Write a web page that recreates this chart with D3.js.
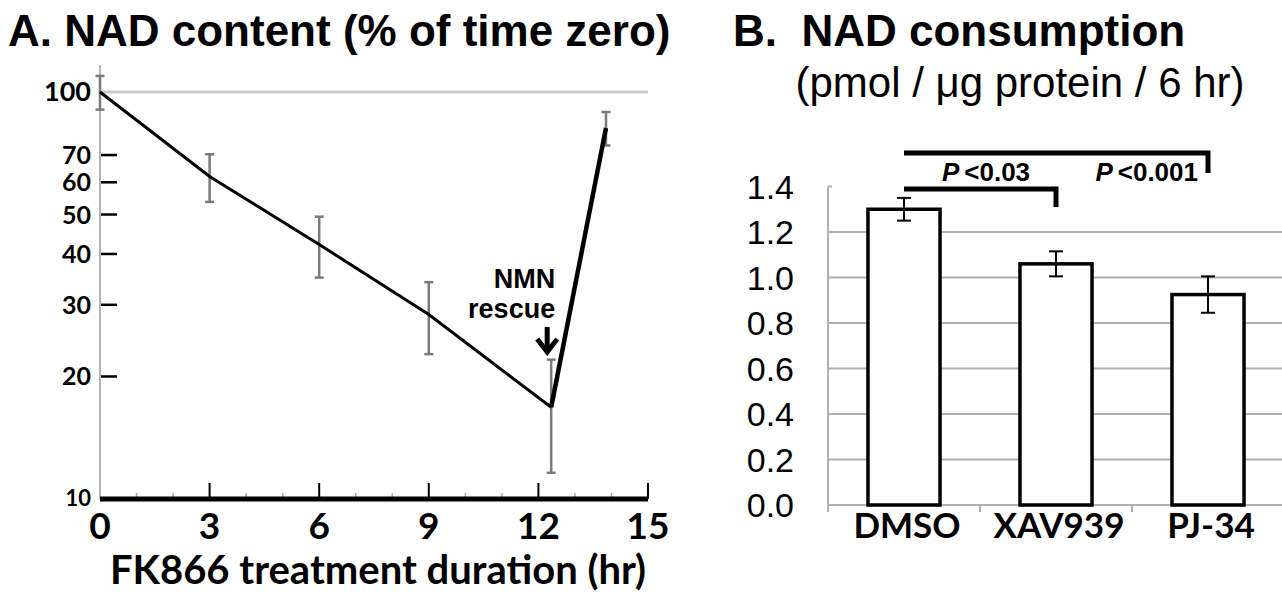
<!DOCTYPE html>
<html>
<head>
<meta charset="utf-8">
<script src="https://cdn.jsdelivr.net/npm/d3@7"></script>
<style>
  body { margin: 0; background: #fff; }
  svg { display: block; }
</style>
</head>
<body>
<svg id="chart" width="1282" height="592"></svg>
<script>
// panel A: NAD content over FK866 treatment time
const hours = [0, 3, 6, 9, 12.35, 13.85];
const nadPct = [100, 62, 42.2, 28.4, 16.8, 81.6];
const nadErr = [9.5, 8.3, 7.2, 5.7, 5.2, 7.7];
const hourTicks = [0, 3, 6, 9, 12, 15];
const pctTicks = [10, 20, 30, 40, 50, 60, 70, 100];

// panel B: NAD consumption per treatment
const groups = ["DMSO", "XAV939", "PJ-34"];
const consumption = [1.30, 1.06, 0.925];
const consErr = [0.05, 0.055, 0.08];
const consTicks = [0, 0.2, 0.4, 0.6, 0.8, 1.0, 1.2, 1.4];

const svg = d3.select("#chart");
const lato = "Lato, 'Open Sans', sans-serif";
const arial = "'Liberation Sans', Arial, sans-serif";

// ---------- A ----------
const xA = d3.scaleLinear().domain([0, 15]).range([100, 648]);
const yA = d3.scaleLog().domain([10, 100]).range([499, 92]);

svg.append("text")
  .attr("x", 8).attr("y", 46)
  .attr("font-family", arial).attr("font-weight", "bold").attr("font-size", 44)
  .text("A. NAD content (% of time zero)");

// light line at 100%
svg.append("line")
  .attr("x1", xA(0)).attr("x2", xA(15))
  .attr("y1", yA(100)).attr("y2", yA(100))
  .attr("stroke", "#cacaca").attr("stroke-width", 3);

// y axis, grey
svg.append("line")
  .attr("x1", xA(0)).attr("x2", xA(0))
  .attr("y1", 65).attr("y2", yA(10))
  .attr("stroke", "#b5b5b5").attr("stroke-width", 2);

const gyA = svg.append("g");
gyA.selectAll("line")
  .data(pctTicks.filter(d => d > 10 && d < 100))
  .join("line")
  .attr("x1", xA(0) + 1).attr("x2", xA(0) + 17)
  .attr("y1", d => yA(d)).attr("y2", d => yA(d))
  .attr("stroke", "#000").attr("stroke-width", 2.5);
gyA.selectAll("text")
  .data(pctTicks)
  .join("text")
  .attr("x", 91)
  .attr("y", d => yA(d))
  .attr("dy", d => d === 10 ? 7 : 9)
  .attr("text-anchor", "end")
  .attr("font-family", lato).attr("font-weight", "bold")
  .attr("font-size", d => d === 10 ? 22 : (d === 100 ? 27 : 25))
  .text(d => d);

// x axis: minor, major ticks and thick base
const gxA = svg.append("g");
gxA.selectAll("line.minor")
  .data(d3.range(1, 15).filter(h => h % 3 !== 0))
  .join("line")
  .attr("class", "minor")
  .attr("x1", d => xA(d)).attr("x2", d => xA(d))
  .attr("y1", yA(10) - 6).attr("y2", yA(10))
  .attr("stroke", "#aaa").attr("stroke-width", 1.5);
gxA.selectAll("line.major")
  .data(hourTicks.slice(1))
  .join("line")
  .attr("class", "major")
  .attr("x1", d => xA(d)).attr("x2", d => xA(d))
  .attr("y1", yA(10) - 16).attr("y2", yA(10))
  .attr("stroke", "#000").attr("stroke-width", 2);
gxA.append("line")
  .attr("x1", xA(0)).attr("x2", xA(15))
  .attr("y1", yA(10)).attr("y2", yA(10))
  .attr("stroke", "#000").attr("stroke-width", 5);
gxA.selectAll("text")
  .data(hourTicks)
  .join("text")
  .attr("x", d => xA(d)).attr("y", 539)
  .attr("text-anchor", "middle")
  .attr("font-family", lato).attr("font-weight", "bold").attr("font-size", 37)
  .text(d => d);

svg.append("text")
  .attr("x", (xA(0) + xA(15)) / 2 + 4).attr("y", 584)
  .attr("text-anchor", "middle")
  .attr("font-family", lato).attr("font-weight", "bold").attr("font-size", 40)
  .text("FK866 treatment duration (hr)");

// error bars
const ptsA = hours.map((h, i) => ({ h, v: nadPct[i], e: nadErr[i] }));
const eb = svg.append("g").attr("stroke", "#7a7a7a").attr("stroke-width", 2.5);
ptsA.forEach(d => {
  const x = xA(d.h);
  eb.append("line").attr("x1", x).attr("x2", x)
    .attr("y1", yA(d.v + d.e)).attr("y2", yA(d.v - d.e));
  [d.v + d.e, d.v - d.e].forEach(v => {
    eb.append("line").attr("x1", x - 4.5).attr("x2", x + 4.5)
      .attr("y1", yA(v)).attr("y2", yA(v));
  });
});

const lineA = d3.line().x(d => xA(d.h)).y(d => yA(d.v));
svg.append("path")
  .attr("d", lineA(ptsA.slice(0, 5)))
  .attr("fill", "none").attr("stroke", "#000").attr("stroke-width", 3);
svg.append("path")
  .attr("d", lineA(ptsA.slice(4)))
  .attr("fill", "none").attr("stroke", "#000").attr("stroke-width", 4.5);

// NMN rescue note + arrow
const ax = xA(hours[4]) - 4;
svg.append("text")
  .attr("x", ax + 8).attr("y", 288)
  .attr("text-anchor", "end")
  .attr("font-family", arial).attr("font-weight", "bold").attr("font-size", 27)
  .text("NMN");
svg.append("text")
  .attr("x", ax + 8).attr("y", 318)
  .attr("text-anchor", "end")
  .attr("font-family", arial).attr("font-weight", "bold").attr("font-size", 27)
  .text("rescue");
svg.append("line")
  .attr("x1", ax).attr("x2", ax).attr("y1", 327).attr("y2", 350)
  .attr("stroke", "#000").attr("stroke-width", 5);
svg.append("path")
  .attr("d", `M${ax - 10},${339} L${ax},${352} L${ax + 10},${339}`)
  .attr("fill", "none").attr("stroke", "#000").attr("stroke-width", 5);

// ---------- B ----------
const xB = d3.scaleBand().domain(groups).range([828, 1284])
  .paddingInner(0.526).paddingOuter(0.263);
const yB = d3.scaleLinear().domain([0, 1.4]).range([505, 186.5]);

svg.append("text")
  .attr("x", 733).attr("y", 46)
  .attr("font-family", arial).attr("font-weight", "bold").attr("font-size", 44)
  .attr("xml:space", "preserve")
  .text("B.  NAD consumption");
svg.append("text")
  .attr("x", 1020).attr("y", 97)
  .attr("text-anchor", "middle")
  .attr("font-family", arial).attr("font-size", 42)
  .text("(pmol / \u03bcg protein / 6 hr)");

// grid
svg.append("g").selectAll("line")
  .data(consTicks.filter(d => d > 0 && d < 1.4))
  .join("line")
  .attr("x1", 828).attr("x2", 1282)
  .attr("y1", d => yB(d)).attr("y2", d => yB(d))
  .attr("stroke", "#b0b0b0").attr("stroke-width", 2);

// axes
svg.append("line")
  .attr("x1", 828).attr("x2", 828).attr("y1", yB(1.4)).attr("y2", yB(0) + 7)
  .attr("stroke", "#b0b0b0").attr("stroke-width", 2);
svg.append("line")
  .attr("x1", 828).attr("x2", 832).attr("y1", yB(1.4)).attr("y2", yB(1.4))
  .attr("stroke", "#b0b0b0").attr("stroke-width", 2);
svg.append("line")
  .attr("x1", 828).attr("x2", 1282).attr("y1", yB(0)).attr("y2", yB(0))
  .attr("stroke", "#b0b0b0").attr("stroke-width", 2);
svg.append("g").selectAll("line")
  .data(groups.slice(1))
  .join("line")
  .attr("x1", d => xB(d) - xB.step() * xB.paddingInner() / 2)
  .attr("x2", d => xB(d) - xB.step() * xB.paddingInner() / 2)
  .attr("y1", yB(0)).attr("y2", yB(0) + 7)
  .attr("stroke", "#b0b0b0").attr("stroke-width", 2);

svg.append("g").selectAll("text")
  .data(consTicks)
  .join("text")
  .attr("x", 794).attr("y", d => yB(d)).attr("dy", 12)
  .attr("text-anchor", "end")
  .attr("font-family", arial).attr("font-size", 34)
  .text(d => d.toFixed(1));

svg.append("g").selectAll("text")
  .data(groups)
  .join("text")
  .attr("x", d => xB(d) + xB.bandwidth() / 2 + 3).attr("y", 538)
  .attr("text-anchor", "middle")
  .attr("font-family", lato).attr("font-weight", "bold").attr("font-size", 35)
  .text(d => d);

// bars
svg.append("g").selectAll("rect")
  .data(groups)
  .join("rect")
  .attr("x", d => xB(d)).attr("width", xB.bandwidth())
  .attr("y", (d, i) => yB(consumption[i]))
  .attr("height", (d, i) => yB(0) - yB(consumption[i]))
  .attr("fill", "#fff").attr("stroke", "#000").attr("stroke-width", 3.5);

// error bars
const ebB = svg.append("g").attr("stroke", "#000").attr("stroke-width", 2);
groups.forEach((g, i) => {
  const x = xB(g) + xB.bandwidth() / 2;
  const hi = consumption[i] + consErr[i], lo = consumption[i] - consErr[i];
  ebB.append("line").attr("x1", x).attr("x2", x).attr("y1", yB(hi)).attr("y2", yB(lo));
  [hi, lo].forEach(v => ebB.append("line")
    .attr("x1", x - 7).attr("x2", x + 7).attr("y1", yB(v)).attr("y2", yB(v)));
});

// significance brackets
const cx = g => xB(g) + xB.bandwidth() / 2;
function bracket(a, b, top, drop) {
  svg.append("path")
    .attr("d", `M${cx(a)},${yB(top)} L${cx(b)},${yB(top)} L${cx(b)},${yB(drop)}`)
    .attr("fill", "none").attr("stroke", "#000").attr("stroke-width", 5);
}
bracket("DMSO", "XAV939", 1.389, 1.31);
bracket("DMSO", "PJ-34", 1.547, 1.459);

function pLabel(x, anchor, txt) {
  const t = svg.append("text")
    .attr("x", x).attr("y", 181).attr("text-anchor", anchor)
    .attr("font-family", arial).attr("font-weight", "bold").attr("font-size", 26);
  t.append("tspan").attr("font-style", "italic").text("P");
  t.append("tspan").attr("dx", 5).text(txt);
}
pLabel((cx("DMSO") + cx("XAV939")) / 2 + 6, "middle", "<0.03");
pLabel(cx("PJ-34") - 10, "end", "<0.001");
</script>
</body>
</html>
